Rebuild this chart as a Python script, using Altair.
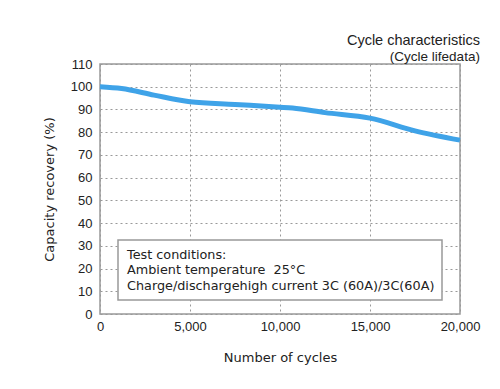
import altair as alt
import pandas as pd

cycles = [0, 1200, 3000, 5000, 7500, 10000, 10700, 12500, 15000, 17500, 20000]
capacity = [100, 99.2, 96.3, 93.4, 92.2, 91.0, 90.6, 88.6, 86.2, 80.6, 76.5]

box_x = [1000]
box_x2 = [19000]
box_y = [6.2]
box_y2 = [32.6]

note_lines = ["Test conditions:", "Ambient temperature\u00a0\u00a025°C",
              "Charge/dischargehigh current 3C (60A)/3C(60A)"]
note_x = [1500, 1500, 1500]
note_y = [26.0, 19.3, 12.3]

x_ticks = [0, 5000, 10000, 15000, 20000]
y_ticks = list(range(0, 111, 10))

df = pd.DataFrame({"cycles": cycles, "capacity": capacity})
box_df = pd.DataFrame({"x": box_x, "x2": box_x2, "y": box_y, "y2": box_y2})
note_df = pd.DataFrame({"t": note_lines, "x": note_x, "y": note_y})

xs = alt.Scale(domain=[0, 20000], nice=False)
ys = alt.Scale(domain=[0, 110], nice=False)

FONT = "DejaVu Sans"
LFONT = "Liberation Sans"

x_axis = alt.Axis(title="Number of cycles", values=x_ticks,
                  labelExpr="format(datum.value, ',')",
                  labelFontSize=13, labelFont=LFONT, labelColor="#222",
                  titleFont=FONT, titleFontSize=13, titleFontWeight="normal",
                  titleColor="#222", titlePadding=18, labelPadding=6,
                  grid=True, gridDash=[2, 3], gridColor="#999", domain=False,
                  ticks=False, labelFlush=False)
y_axis = alt.Axis(title="Capacity recovery (%)", values=y_ticks,
                  labelFontSize=13, labelFont=LFONT, labelColor="#222",
                  titleFont=FONT, titleFontSize=13, titleFontWeight="normal",
                  titleColor="#222", titlePadding=14, labelPadding=8,
                  grid=True, gridDash=[2, 3], gridColor="#999", domain=False,
                  ticks=False)

line = alt.Chart(df).mark_line(color="#3FA3E8", strokeWidth=5, interpolate="monotone").encode(
    x=alt.X("cycles:Q", scale=xs, axis=x_axis),
    y=alt.Y("capacity:Q", scale=ys, axis=y_axis),
)

box = alt.Chart(box_df).mark_rect(fill="white", stroke="#999", strokeWidth=1.5).encode(
    x=alt.X("x:Q", scale=xs, axis=x_axis), x2="x2:Q",
    y=alt.Y("y:Q", scale=ys, axis=y_axis), y2="y2:Q",
)

notes = alt.Chart(note_df).mark_text(align="left", baseline="middle", font=FONT,
                                     fontSize=12.8, color="#222").encode(
    x=alt.X("x:Q", scale=xs, axis=x_axis), y=alt.Y("y:Q", scale=ys, axis=y_axis), text="t:N"
)

chart = alt.layer(line, box, notes).properties(
    width=360, height=250,
    autosize=alt.AutoSizeParams(type="none"),
    padding={"left": 92, "top": 56, "right": 32, "bottom": 67},
    title=alt.TitleParams(text="Cycle characteristics", subtitle="(Cycle lifedata)",
                          anchor="end", font=LFONT, fontSize=14.5, fontWeight="normal",
                          color="#222", subtitleFont=LFONT, subtitleFontSize=13.5,
                          subtitleColor="#222", offset=-6, subtitlePadding=1),
).configure_view(stroke="#999", strokeWidth=1.5)

chart.save("out.html", embed_options={"renderer": "svg", "actions": False})
